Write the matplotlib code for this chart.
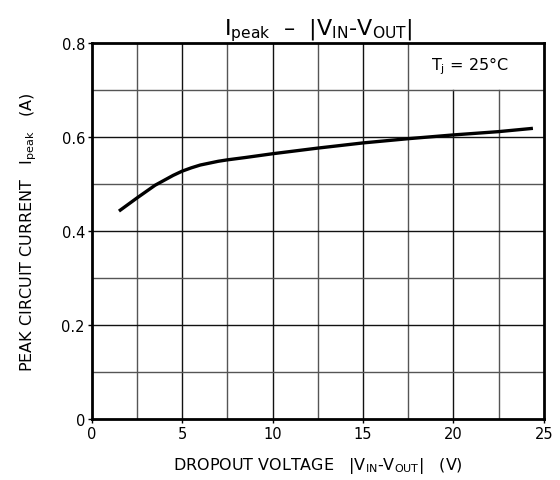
import numpy as np
import matplotlib
matplotlib.use('Agg')
import matplotlib.pyplot as plt

plt.rcParams['font.family'] = ['DejaVu Sans']
plt.rcParams['mathtext.default'] = 'regular'

# curve
DROPOUT_V = [1.5, 2.5, 3.5, 4.5, 5.0, 5.5, 6.0, 6.5, 7.0, 7.5, 8.5, 10.0, 12.5, 15.0, 17.5, 20.0, 22.5, 24.4]
I_PEAK = [0.442, 0.470, 0.497, 0.518, 0.527, 0.534, 0.540, 0.544, 0.548, 0.551, 0.556, 0.564, 0.576, 0.587, 0.596, 0.604, 0.611, 0.618]

X_TICKS = [0, 5, 10, 15, 20, 25]
Y_TICKS = [0, 0.2, 0.4, 0.6, 0.8]
Y_LABELS = ['0', '0.2', '0.4', '0.6', '0.8']

fig = plt.figure(figsize=(5.6, 4.81), dpi=100)
ax = fig.add_axes([0.164, 0.127, 0.807, 0.782])
ax.set_xlim(0, 25)
ax.set_ylim(0, 0.8)

# grid, with the top-right cell left open for the note
for x in np.arange(2.5, 25, 2.5):
    top = 0.7 if x >= 19 else 0.8
    col = '#111111' if x % 5 == 0 else '#555555'
    ax.plot([x, x], [0, top], color=col, lw=1.0, zorder=1)
for y in np.arange(0.1, 0.8, 0.1):
    col = '#111111' if round(y * 10) % 2 == 0 else '#555555'
    ax.plot([0, 25], [y, y], color=col, lw=1.0, zorder=1)

ax.plot(DROPOUT_V, I_PEAK, color='black', lw=2.4, solid_capstyle='butt',
        solid_joinstyle='round', zorder=3)

ax.text(20.9, 0.752, '$T_j$ = 25°C', ha='center', va='center', fontsize=11.5)

ax.set_xticks(X_TICKS)
ax.set_yticks(Y_TICKS)
ax.set_yticklabels(Y_LABELS)
ax.tick_params(direction='out', length=3, width=1, labelsize=10.5, pad=2)
for s in ax.spines.values():
    s.set_linewidth(2)

ax.set_title('$I_{peak}$  –  $|V_{IN}$-$V_{OUT}|$', fontsize=16, pad=6)
ax.set_xlabel('DROPOUT VOLTAGE   $|V_{IN}$-$V_{OUT}|$   (V)', fontsize=11.5, labelpad=10)
ax.set_ylabel('PEAK CIRCUIT CURRENT   $I_{peak}$   (A)', fontsize=11.5, labelpad=10)
ax.yaxis.set_label_coords(-0.116, 0.5)

plt.savefig('out.png', dpi=100)
